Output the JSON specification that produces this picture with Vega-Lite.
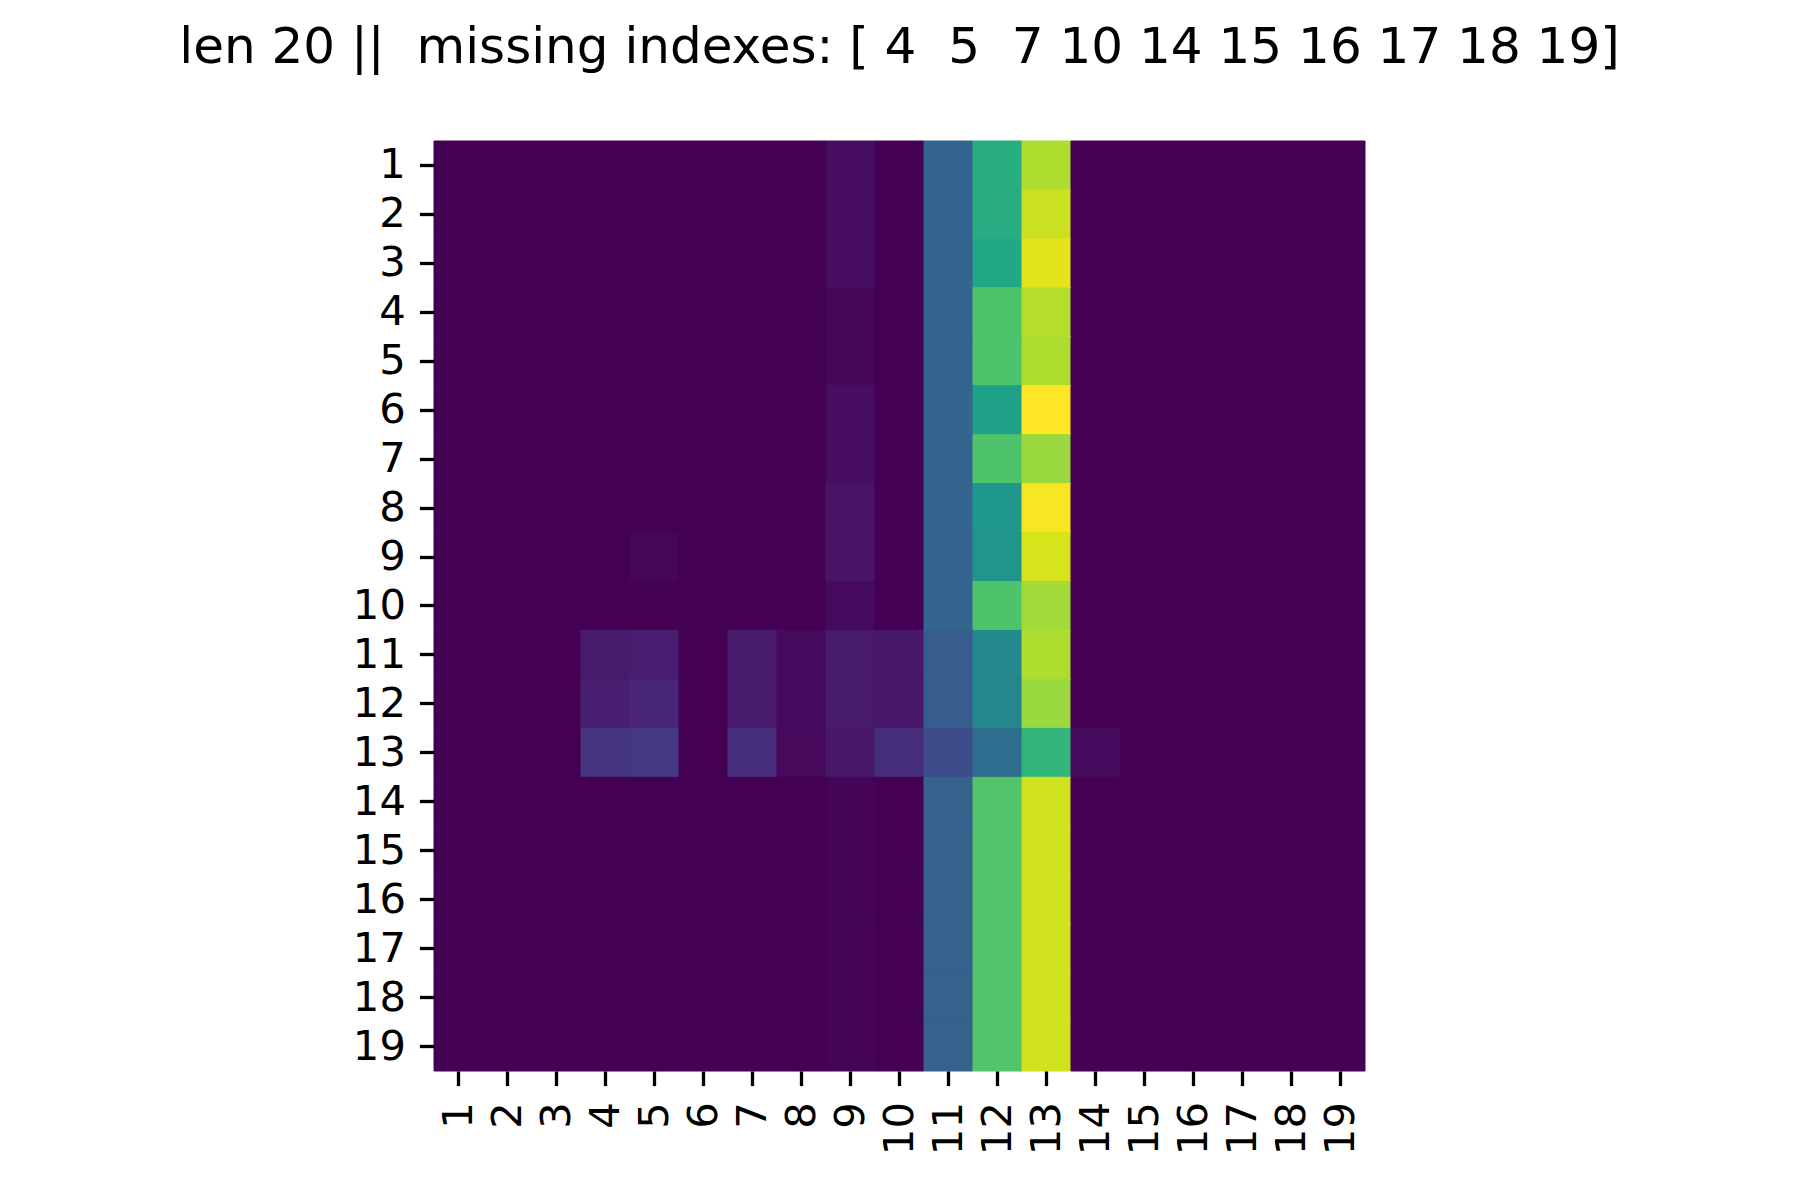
{
  "$schema": "https://vega.github.io/schema/vega-lite/v6.json",
  "autosize": {"type": "none"},
  "padding": {"left": 434, "top": 141, "right": 435, "bottom": 129},
  "width": 931,
  "height": 930,
  "background": "white",
  "title": {
    "text": "len 20 ||\u00a0 missing indexes: [ 4\u00a0 5\u00a0 7 10 14 15 16 17 18 19]",
    "font": "DejaVu Sans",
    "fontSize": 50,
    "fontWeight": "normal",
    "color": "black",
    "anchor": "middle",
    "baseline": "alphabetic",
    "offset": 28
  },
  "config": {
    "view": {"stroke": null},
    "axis": {
      "labelFont": "DejaVu Sans",
      "labelFontSize": 41.7,
      "labelColor": "black",
      "tickColor": "black",
      "tickWidth": 3.3,
      "tickSize": 14.6,
      "labelPadding": 14,
      "domain": false,
      "grid": false,
      "title": null
    }
  },
  "data": {"values": [
    {"r":1,"c":1,"v":0},{"r":1,"c":2,"v":0},{"r":1,"c":3,"v":0},{"r":1,"c":4,"v":0},{"r":1,"c":5,"v":0},{"r":1,"c":6,"v":0},{"r":1,"c":7,"v":0},{"r":1,"c":8,"v":0},{"r":1,"c":9,"v":0.03},{"r":1,"c":10,"v":0},{"r":1,"c":11,"v":0.32},{"r":1,"c":12,"v":0.62},{"r":1,"c":13,"v":0.88},{"r":1,"c":14,"v":0},{"r":1,"c":15,"v":0},{"r":1,"c":16,"v":0},{"r":1,"c":17,"v":0},{"r":1,"c":18,"v":0},{"r":1,"c":19,"v":0},
    {"r":2,"c":1,"v":0},{"r":2,"c":2,"v":0},{"r":2,"c":3,"v":0},{"r":2,"c":4,"v":0},{"r":2,"c":5,"v":0},{"r":2,"c":6,"v":0},{"r":2,"c":7,"v":0},{"r":2,"c":8,"v":0},{"r":2,"c":9,"v":0.03},{"r":2,"c":10,"v":0},{"r":2,"c":11,"v":0.32},{"r":2,"c":12,"v":0.62},{"r":2,"c":13,"v":0.92},{"r":2,"c":14,"v":0},{"r":2,"c":15,"v":0},{"r":2,"c":16,"v":0},{"r":2,"c":17,"v":0},{"r":2,"c":18,"v":0},{"r":2,"c":19,"v":0},
    {"r":3,"c":1,"v":0},{"r":3,"c":2,"v":0},{"r":3,"c":3,"v":0},{"r":3,"c":4,"v":0},{"r":3,"c":5,"v":0},{"r":3,"c":6,"v":0},{"r":3,"c":7,"v":0},{"r":3,"c":8,"v":0},{"r":3,"c":9,"v":0.03},{"r":3,"c":10,"v":0},{"r":3,"c":11,"v":0.32},{"r":3,"c":12,"v":0.6},{"r":3,"c":13,"v":0.96},{"r":3,"c":14,"v":0},{"r":3,"c":15,"v":0},{"r":3,"c":16,"v":0},{"r":3,"c":17,"v":0},{"r":3,"c":18,"v":0},{"r":3,"c":19,"v":0},
    {"r":4,"c":1,"v":0},{"r":4,"c":2,"v":0},{"r":4,"c":3,"v":0},{"r":4,"c":4,"v":0},{"r":4,"c":5,"v":0},{"r":4,"c":6,"v":0},{"r":4,"c":7,"v":0},{"r":4,"c":8,"v":0},{"r":4,"c":9,"v":0.015},{"r":4,"c":10,"v":0},{"r":4,"c":11,"v":0.32},{"r":4,"c":12,"v":0.72},{"r":4,"c":13,"v":0.89},{"r":4,"c":14,"v":0},{"r":4,"c":15,"v":0},{"r":4,"c":16,"v":0},{"r":4,"c":17,"v":0},{"r":4,"c":18,"v":0},{"r":4,"c":19,"v":0},
    {"r":5,"c":1,"v":0},{"r":5,"c":2,"v":0},{"r":5,"c":3,"v":0},{"r":5,"c":4,"v":0},{"r":5,"c":5,"v":0},{"r":5,"c":6,"v":0},{"r":5,"c":7,"v":0},{"r":5,"c":8,"v":0},{"r":5,"c":9,"v":0.015},{"r":5,"c":10,"v":0},{"r":5,"c":11,"v":0.32},{"r":5,"c":12,"v":0.72},{"r":5,"c":13,"v":0.88},{"r":5,"c":14,"v":0},{"r":5,"c":15,"v":0},{"r":5,"c":16,"v":0},{"r":5,"c":17,"v":0},{"r":5,"c":18,"v":0},{"r":5,"c":19,"v":0},
    {"r":6,"c":1,"v":0},{"r":6,"c":2,"v":0},{"r":6,"c":3,"v":0},{"r":6,"c":4,"v":0},{"r":6,"c":5,"v":0},{"r":6,"c":6,"v":0},{"r":6,"c":7,"v":0},{"r":6,"c":8,"v":0},{"r":6,"c":9,"v":0.03},{"r":6,"c":10,"v":0},{"r":6,"c":11,"v":0.32},{"r":6,"c":12,"v":0.57},{"r":6,"c":13,"v":1.0},{"r":6,"c":14,"v":0},{"r":6,"c":15,"v":0},{"r":6,"c":16,"v":0},{"r":6,"c":17,"v":0},{"r":6,"c":18,"v":0},{"r":6,"c":19,"v":0},
    {"r":7,"c":1,"v":0},{"r":7,"c":2,"v":0},{"r":7,"c":3,"v":0},{"r":7,"c":4,"v":0},{"r":7,"c":5,"v":0},{"r":7,"c":6,"v":0},{"r":7,"c":7,"v":0},{"r":7,"c":8,"v":0},{"r":7,"c":9,"v":0.03},{"r":7,"c":10,"v":0},{"r":7,"c":11,"v":0.32},{"r":7,"c":12,"v":0.72},{"r":7,"c":13,"v":0.85},{"r":7,"c":14,"v":0},{"r":7,"c":15,"v":0},{"r":7,"c":16,"v":0},{"r":7,"c":17,"v":0},{"r":7,"c":18,"v":0},{"r":7,"c":19,"v":0},
    {"r":8,"c":1,"v":0},{"r":8,"c":2,"v":0},{"r":8,"c":3,"v":0},{"r":8,"c":4,"v":0},{"r":8,"c":5,"v":0},{"r":8,"c":6,"v":0},{"r":8,"c":7,"v":0},{"r":8,"c":8,"v":0},{"r":8,"c":9,"v":0.05},{"r":8,"c":10,"v":0},{"r":8,"c":11,"v":0.32},{"r":8,"c":12,"v":0.53},{"r":8,"c":13,"v":0.99},{"r":8,"c":14,"v":0},{"r":8,"c":15,"v":0},{"r":8,"c":16,"v":0},{"r":8,"c":17,"v":0},{"r":8,"c":18,"v":0},{"r":8,"c":19,"v":0},
    {"r":9,"c":1,"v":0},{"r":9,"c":2,"v":0},{"r":9,"c":3,"v":0},{"r":9,"c":4,"v":0},{"r":9,"c":5,"v":0.015},{"r":9,"c":6,"v":0},{"r":9,"c":7,"v":0},{"r":9,"c":8,"v":0},{"r":9,"c":9,"v":0.05},{"r":9,"c":10,"v":0},{"r":9,"c":11,"v":0.32},{"r":9,"c":12,"v":0.52},{"r":9,"c":13,"v":0.94},{"r":9,"c":14,"v":0},{"r":9,"c":15,"v":0},{"r":9,"c":16,"v":0},{"r":9,"c":17,"v":0},{"r":9,"c":18,"v":0},{"r":9,"c":19,"v":0},
    {"r":10,"c":1,"v":0},{"r":10,"c":2,"v":0},{"r":10,"c":3,"v":0},{"r":10,"c":4,"v":0},{"r":10,"c":5,"v":0},{"r":10,"c":6,"v":0},{"r":10,"c":7,"v":0},{"r":10,"c":8,"v":0},{"r":10,"c":9,"v":0.025},{"r":10,"c":10,"v":0},{"r":10,"c":11,"v":0.32},{"r":10,"c":12,"v":0.72},{"r":10,"c":13,"v":0.86},{"r":10,"c":14,"v":0},{"r":10,"c":15,"v":0},{"r":10,"c":16,"v":0},{"r":10,"c":17,"v":0},{"r":10,"c":18,"v":0},{"r":10,"c":19,"v":0},
    {"r":11,"c":1,"v":0},{"r":11,"c":2,"v":0},{"r":11,"c":3,"v":0},{"r":11,"c":4,"v":0.07},{"r":11,"c":5,"v":0.08},{"r":11,"c":6,"v":0},{"r":11,"c":7,"v":0.07},{"r":11,"c":8,"v":0.025},{"r":11,"c":9,"v":0.07},{"r":11,"c":10,"v":0.06},{"r":11,"c":11,"v":0.29},{"r":11,"c":12,"v":0.47},{"r":11,"c":13,"v":0.88},{"r":11,"c":14,"v":0},{"r":11,"c":15,"v":0},{"r":11,"c":16,"v":0},{"r":11,"c":17,"v":0},{"r":11,"c":18,"v":0},{"r":11,"c":19,"v":0},
    {"r":12,"c":1,"v":0},{"r":12,"c":2,"v":0},{"r":12,"c":3,"v":0},{"r":12,"c":4,"v":0.08},{"r":12,"c":5,"v":0.1},{"r":12,"c":6,"v":0},{"r":12,"c":7,"v":0.07},{"r":12,"c":8,"v":0.025},{"r":12,"c":9,"v":0.07},{"r":12,"c":10,"v":0.06},{"r":12,"c":11,"v":0.29},{"r":12,"c":12,"v":0.46},{"r":12,"c":13,"v":0.85},{"r":12,"c":14,"v":0},{"r":12,"c":15,"v":0},{"r":12,"c":16,"v":0},{"r":12,"c":17,"v":0},{"r":12,"c":18,"v":0},{"r":12,"c":19,"v":0},
    {"r":13,"c":1,"v":0},{"r":13,"c":2,"v":0},{"r":13,"c":3,"v":0},{"r":13,"c":4,"v":0.15},{"r":13,"c":5,"v":0.16},{"r":13,"c":6,"v":0},{"r":13,"c":7,"v":0.13},{"r":13,"c":8,"v":0.02},{"r":13,"c":9,"v":0.06},{"r":13,"c":10,"v":0.13},{"r":13,"c":11,"v":0.23},{"r":13,"c":12,"v":0.36},{"r":13,"c":13,"v":0.66},{"r":13,"c":14,"v":0.025},{"r":13,"c":15,"v":0},{"r":13,"c":16,"v":0},{"r":13,"c":17,"v":0},{"r":13,"c":18,"v":0},{"r":13,"c":19,"v":0},
    {"r":14,"c":1,"v":0},{"r":14,"c":2,"v":0},{"r":14,"c":3,"v":0},{"r":14,"c":4,"v":0},{"r":14,"c":5,"v":0},{"r":14,"c":6,"v":0},{"r":14,"c":7,"v":0},{"r":14,"c":8,"v":0},{"r":14,"c":9,"v":0.008},{"r":14,"c":10,"v":0},{"r":14,"c":11,"v":0.31},{"r":14,"c":12,"v":0.73},{"r":14,"c":13,"v":0.93},{"r":14,"c":14,"v":0},{"r":14,"c":15,"v":0},{"r":14,"c":16,"v":0},{"r":14,"c":17,"v":0},{"r":14,"c":18,"v":0},{"r":14,"c":19,"v":0},
    {"r":15,"c":1,"v":0},{"r":15,"c":2,"v":0},{"r":15,"c":3,"v":0},{"r":15,"c":4,"v":0},{"r":15,"c":5,"v":0},{"r":15,"c":6,"v":0},{"r":15,"c":7,"v":0},{"r":15,"c":8,"v":0},{"r":15,"c":9,"v":0.008},{"r":15,"c":10,"v":0},{"r":15,"c":11,"v":0.31},{"r":15,"c":12,"v":0.73},{"r":15,"c":13,"v":0.93},{"r":15,"c":14,"v":0},{"r":15,"c":15,"v":0},{"r":15,"c":16,"v":0},{"r":15,"c":17,"v":0},{"r":15,"c":18,"v":0},{"r":15,"c":19,"v":0},
    {"r":16,"c":1,"v":0},{"r":16,"c":2,"v":0},{"r":16,"c":3,"v":0},{"r":16,"c":4,"v":0},{"r":16,"c":5,"v":0},{"r":16,"c":6,"v":0},{"r":16,"c":7,"v":0},{"r":16,"c":8,"v":0},{"r":16,"c":9,"v":0.008},{"r":16,"c":10,"v":0},{"r":16,"c":11,"v":0.31},{"r":16,"c":12,"v":0.73},{"r":16,"c":13,"v":0.93},{"r":16,"c":14,"v":0},{"r":16,"c":15,"v":0},{"r":16,"c":16,"v":0},{"r":16,"c":17,"v":0},{"r":16,"c":18,"v":0},{"r":16,"c":19,"v":0},
    {"r":17,"c":1,"v":0},{"r":17,"c":2,"v":0},{"r":17,"c":3,"v":0},{"r":17,"c":4,"v":0},{"r":17,"c":5,"v":0},{"r":17,"c":6,"v":0},{"r":17,"c":7,"v":0},{"r":17,"c":8,"v":0},{"r":17,"c":9,"v":0.008},{"r":17,"c":10,"v":0},{"r":17,"c":11,"v":0.31},{"r":17,"c":12,"v":0.73},{"r":17,"c":13,"v":0.93},{"r":17,"c":14,"v":0},{"r":17,"c":15,"v":0},{"r":17,"c":16,"v":0},{"r":17,"c":17,"v":0},{"r":17,"c":18,"v":0},{"r":17,"c":19,"v":0},
    {"r":18,"c":1,"v":0},{"r":18,"c":2,"v":0},{"r":18,"c":3,"v":0},{"r":18,"c":4,"v":0},{"r":18,"c":5,"v":0},{"r":18,"c":6,"v":0},{"r":18,"c":7,"v":0},{"r":18,"c":8,"v":0},{"r":18,"c":9,"v":0.008},{"r":18,"c":10,"v":0},{"r":18,"c":11,"v":0.31},{"r":18,"c":12,"v":0.73},{"r":18,"c":13,"v":0.93},{"r":18,"c":14,"v":0},{"r":18,"c":15,"v":0},{"r":18,"c":16,"v":0},{"r":18,"c":17,"v":0},{"r":18,"c":18,"v":0},{"r":18,"c":19,"v":0},
    {"r":19,"c":1,"v":0},{"r":19,"c":2,"v":0},{"r":19,"c":3,"v":0},{"r":19,"c":4,"v":0},{"r":19,"c":5,"v":0},{"r":19,"c":6,"v":0},{"r":19,"c":7,"v":0},{"r":19,"c":8,"v":0},{"r":19,"c":9,"v":0.008},{"r":19,"c":10,"v":0},{"r":19,"c":11,"v":0.31},{"r":19,"c":12,"v":0.73},{"r":19,"c":13,"v":0.93},{"r":19,"c":14,"v":0},{"r":19,"c":15,"v":0},{"r":19,"c":16,"v":0},{"r":19,"c":17,"v":0},{"r":19,"c":18,"v":0},{"r":19,"c":19,"v":0}
  ]},
  "mark": {"type": "rect", "strokeWidth": 1},
  "encoding": {
    "x": {
      "field": "c", "type": "ordinal", "sort": "ascending",
      "scale": {"paddingInner": 0, "paddingOuter": 0},
      "axis": {"orient": "bottom", "labelAngle": -90, "labelAlign": "right", "labelBaseline": "middle", "labelPadding": 16}
    },
    "y": {
      "field": "r", "type": "ordinal", "sort": "ascending",
      "scale": {"paddingInner": 0, "paddingOuter": 0},
      "axis": {"orient": "left", "labelAngle": 0}
    },
    "color": {
      "field": "v", "type": "quantitative",
      "scale": {"scheme": "viridis", "domain": [0, 1]},
      "legend": null
    },
    "stroke": {
      "field": "v", "type": "quantitative",
      "scale": {"scheme": "viridis", "domain": [0, 1]},
      "legend": null
    }
  }
}
